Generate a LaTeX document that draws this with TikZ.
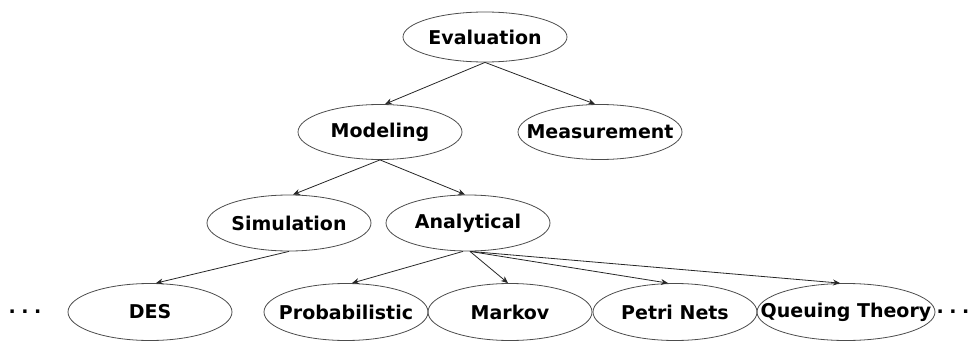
\documentclass[tikz,border=0pt]{standalone}
\usepackage{fontspec}
\setmainfont{DejaVu Sans}
\usetikzlibrary{arrows.meta,shapes.geometric}
\newcommand{\spreaddots}{.\hspace{5.5pt}.\hspace{5.5pt}.}
\begin{document}
\begin{tikzpicture}[x=1pt,y=-1pt,
  every node/.style={font=\bfseries\fontsize{19}{21}\selectfont},
  topic/.style={ellipse,draw=black!70,line width=0.8pt,inner xsep=-60pt,inner ysep=0pt,
    minimum width=164pt},
  link/.style={draw=black!85,line width=0.8pt,-{Stealth[length=7pt,width=6pt]}},
  dots/.style={inner sep=0pt}]
  \useasboundingbox (0,0) rectangle (976,342);
  % tree of evaluation techniques
  \node[topic,minimum height=50pt] (eval) at (485,37) {Evaluation};
  \node[topic,minimum height=55pt] (model) at (380,132) {Modeling};
  \node[topic,minimum height=55pt] (meas) at (600,132) {Measurement};
  \node[topic,minimum height=56pt] (sim) at (289,223) {Simulation};
  \node[topic,minimum height=56pt] (ana) at (468,223) {Analytical};
  \node[topic,minimum height=57pt] (des) at (150,312) {DES};
  \node[topic,minimum height=57pt] (prob) at (346,312) {Probabilistic};
  \node[topic,minimum height=57pt] (markov) at (510,312) {Markov};
  \node[topic,minimum height=57pt] (petri) at (675,312) {Petri Nets};
  \node[topic,minimum height=57pt,minimum width=178pt] (queue) at (846,312) {Queuing Theory};
  \node[dots] (ldots) at (25,312) {\spreaddots};
  \node[dots] (rdots) at (953,312) {\spreaddots};
  % connectors
  \draw[link] (eval.south) -- ([xshift=5pt]model.north);
  \draw[link] (eval.south) -- ([xshift=-5pt]meas.north);
  \draw[link] (model.south) -- ([xshift=4pt]sim.north);
  \draw[link] (model.south) -- ([xshift=-3pt]ana.north);
  \draw[link] (sim.south) -- ([xshift=6pt]des.north);
  \draw[link] ([xshift=-5pt]ana.south) -- ([xshift=6pt]prob.north);
  \draw[link] ([xshift=2pt]ana.south) -- ([xshift=-2pt]markov.north);
  \draw[link] ([xshift=2pt]ana.south) -- ([xshift=-7pt]petri.north);
  \draw[link] ([xshift=2pt]ana.south) -- ([xshift=-6pt]queue.north);
\end{tikzpicture}
\end{document}
